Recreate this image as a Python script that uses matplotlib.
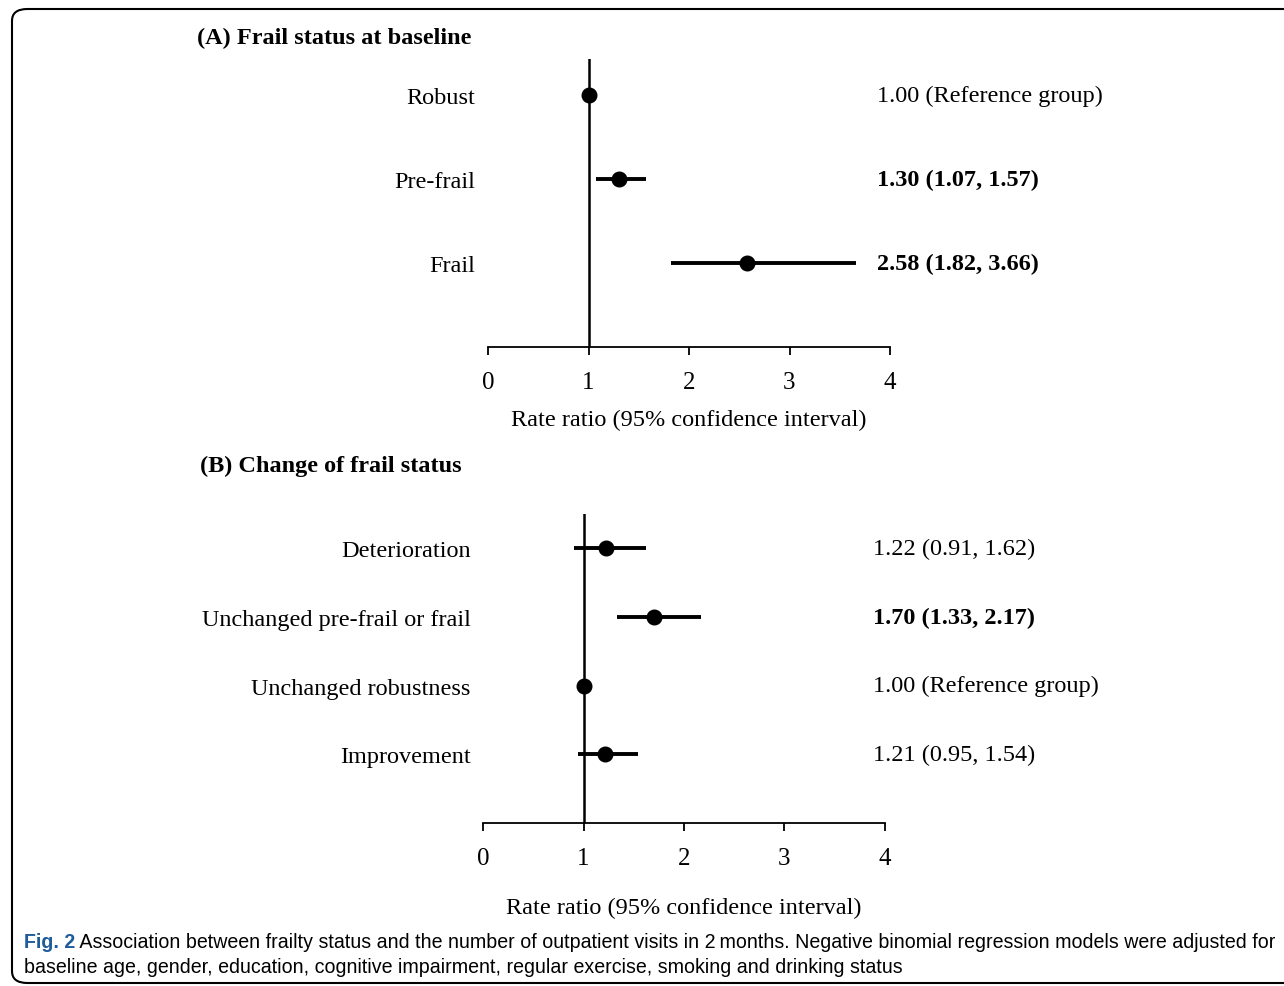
import matplotlib
matplotlib.use("Agg")
import matplotlib.pyplot as plt
from matplotlib.patches import FancyBboxPatch

# ---- Data ----
a_labels = ["Robust", "Pre-frail", "Frail"]
a_est = [1.00, 1.30, 2.58]
a_lo = [1.00, 1.07, 1.82]
a_hi = [1.00, 1.57, 3.66]
a_text = ["1.00 (Reference group)", "1.30 (1.07, 1.57)", "2.58 (1.82, 3.66)"]
a_bold = [False, True, True]

b_labels = ["Deterioration", "Unchanged pre-frail or frail", "Unchanged robustness", "Improvement"]
b_est = [1.22, 1.70, 1.00, 1.21]
b_lo = [0.91, 1.33, 1.00, 0.95]
b_hi = [1.62, 2.17, 1.00, 1.54]
b_text = ["1.22 (0.91, 1.62)", "1.70 (1.33, 2.17)", "1.00 (Reference group)", "1.21 (0.95, 1.54)"]
b_bold = [False, True, False, False]

x_ticks = [0, 1, 2, 3, 4]
x_label = "Rate ratio (95% confidence interval)"
title_a = "(A) Frail status at baseline"
title_b = "(B) Change of frail status"
cap_bold = "Fig. 2"
cap_line1 = (" Association between frailty status and the number of outpatient visits in 2\u2009months. "
             "Negative binomial regression models were adjusted for")
cap_line2 = "baseline age, gender, education, cognitive impairment, regular exercise, smoking and drinking status"

W, H = 1284, 987
fig = plt.figure(figsize=(W / 100, H / 100), dpi=100)
serif = "Liberation Serif"
fs = 17.5


def px_axes(x0, x1, y0, y1):
    return fig.add_axes([x0 / W, 1 - y1 / H, (x1 - x0) / W, (y1 - y0) / H])


def panel(ax, labels, est, lo, hi, texts, bolds, ytop, label_pad, xlab_pad, text_x):
    n = len(labels)
    ys = list(range(n))
    ax.set_xlim(0, 4)
    ax.set_ylim(n, ytop)
    ax.axvline(1, color="black", lw=1.8, zorder=1)
    for y, e, l, h in zip(ys, est, lo, hi):
        ax.plot([l, h], [y, y], color="black", lw=2.8, solid_capstyle="butt", zorder=2)
    ax.plot(est, ys, "o", color="black", markersize=10.5, zorder=3)
    for s in ["top", "right", "left"]:
        ax.spines[s].set_visible(False)
    ax.spines["bottom"].set_linewidth(1.3)
    ax.set_xticks(x_ticks)
    ax.set_xticklabels([str(t) for t in x_ticks], fontfamily=serif, fontsize=18)
    ax.tick_params(axis="x", direction="out", length=6, width=1.3, pad=11)
    ax.set_yticks(ys)
    ax.set_yticklabels(labels, fontfamily=serif, fontsize=fs)
    ax.tick_params(axis="y", length=0, pad=label_pad)
    ax.set_xlabel(x_label, fontfamily=serif, fontsize=fs, labelpad=xlab_pad)
    for y, t, b in zip(ys, texts, bolds):
        ax.text(text_x, y, t, fontfamily=serif, fontsize=fs, fontweight="bold" if b else "normal",
                va="center", ha="left", clip_on=False)
    ax.patch.set_visible(False)


ax1 = px_axes(488, 890, 60, 348)
panel(ax1, a_labels, a_est, a_lo, a_hi, a_text, a_bold, -0.43, 9, 12, (877 - 488) / 100.5)

ax2 = px_axes(483, 885, 515, 824)
panel(ax2, b_labels, b_est, b_lo, b_hi, b_text, b_bold, -0.5, 9, 20, (873 - 483) / 100.5)

fig.text(197 / W, 1 - 38 / H, title_a, fontfamily=serif, fontsize=fs, fontweight="bold",
         ha="left", va="center")
fig.text(200 / W, 1 - 466 / H, title_b, fontfamily=serif, fontsize=fs, fontweight="bold",
         ha="left", va="center")

# caption
cap_font = ["Liberation Sans Narrow", "Liberation Sans", "DejaVu Sans"]
cfs = 14.1
t1 = fig.text(24 / W, 1 - 943 / H, cap_bold, fontfamily=cap_font, fontsize=cfs, fontweight="bold",
              color="#1f5c99", ha="left", va="center")
fig.canvas.draw()
bb = t1.get_window_extent()
fig.text(bb.x1 / W, 1 - 943 / H, cap_line1, fontfamily=cap_font, fontsize=cfs,
         ha="left", va="center")
fig.text(24 / W, 1 - 968 / H, cap_line2, fontfamily=cap_font, fontsize=cfs,
         ha="left", va="center")

# border
box = FancyBboxPatch((12 / W, 3 / H), (W + 20) / W, (H - 13) / H,
                     boxstyle="round,pad=0,rounding_size=0.012",
                     transform=fig.transFigure, fill=False, edgecolor="black", lw=1.5,
                     clip_on=False)
fig.patches.append(box)

fig.savefig("out.png", dpi=100)
